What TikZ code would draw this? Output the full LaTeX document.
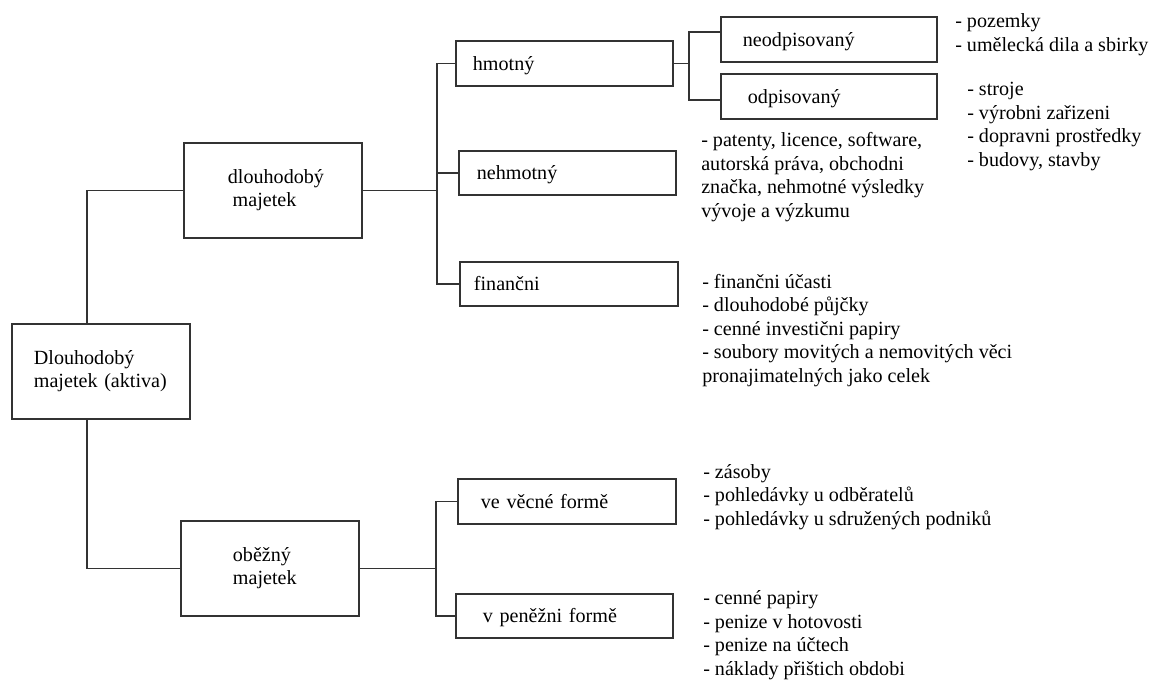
\documentclass[tikz,border=0pt]{standalone}
\usepackage{fontspec}
\setmainfont{Liberation Serif}
\hyphenpenalty=10000

\begin{document}
\begin{tikzpicture}[
    x=0.025cm, y=-0.025cm,
    font=\fontsize{14.3}{16.6}\selectfont,
    box/.style={draw=black!80, line width=1.3pt, anchor=north west, align=left,
      inner ysep=0pt},
    one/.style={text height=12.5pt, text depth=3pt},
    lst/.style={anchor=base west, align=left, inner sep=0pt},
    link/.style={draw=black!80, line width=1.3pt}
  ]
    \useasboundingbox (0,0) rectangle (1152,680);
    % boxes
    \node[box, minimum height=2.375cm, text width=3.35cm, inner xsep=0.55cm]
      (root) at (11,323) {Dlouhodobý\\majetek (aktiva)};
    \node[box, minimum height=2.375cm, text width=2.25cm, inner xsep=1.1cm]
      (dlouho) at (183,142) {dlouhodobý\\\hspace*{0.12cm}majetek};
    \node[box, minimum height=2.375cm, text width=1.85cm, inner xsep=1.3cm]
      (obezny) at (180,520) {oběžný\\majetek};
    \node[box, one, minimum height=1.125cm, text width=4.575cm, inner xsep=0.425cm]
      (hmotny) at (455,40) {hmotný};
    \node[box, one, minimum height=1.1cm, text width=4.525cm, inner xsep=0.45cm]
      (nehmotny) at (458,150) {nehmotný};
    \node[box, one, minimum height=1.1cm, text width=4.75cm, inner xsep=0.35cm]
      (financni) at (459,261) {finančni};
    \node[box, one, minimum height=1.125cm, text width=4.3cm, inner xsep=0.55cm]
      (neodp) at (720,16) {neodpisovaný};
    \node[box, one, minimum height=1.125cm, text width=4.05cm, inner xsep=0.675cm]
      (odp) at (720,73) {odpisovaný};
    \node[box, one, minimum height=1.125cm, text width=4.3cm, inner xsep=0.575cm]
      (vecne) at (457,478) {ve věcné formě};
    \node[box, one, minimum height=1.1cm, text width=4.075cm, inner xsep=0.675cm]
      (penezni) at (455,593) {v peněžni formě};
    % lists (placed at the baseline of their last line)
    \node[lst] (pozemky) at (955,51) {- pozemky\\- umělecká dila a sbirky};
    \node[lst] (stroje) at (967,166) {- stroje\\- výrobni zařizeni\\- dopravni prostředky\\- budovy, stavby};
    \node[lst] (patenty) at (701,217) {- patenty, licence, software,\\autorská práva, obchodni\\značka, nehmotné výsledky\\vývoje a výzkumu};
    \node[lst] (ucasti) at (702,382) {- finančni účasti\\- dlouhodobé půjčky\\- cenné investični papiry\\- soubory movitých a nemovitých věci\\pronajimatelných jako celek};
    \node[lst] (zasoby) at (703,525) {- zásoby\\- pohledávky u odběratelů\\- pohledávky u sdružených podniků};
    \node[lst] (papiry) at (703,675) {- cenné papiry\\- penize v hotovosti\\- penize na účtech\\- náklady přištich obdobi};
    % connectors
    \coordinate (trunk) at (87,0);
    \coordinate (fork1) at (437,0);
    \coordinate (fork2) at (689,0);
    \coordinate (fork3) at (436,0);
    \draw[link] (root.north -| trunk) |- (dlouho.west);
    \draw[link] (root.south -| trunk) |- (obezny.west);
    \draw[link] (dlouho.east) -- (dlouho.east -| fork1);
    \draw[link] (hmotny.west) -| (fork1 |- financni.west) -- (financni.west);
    \draw[link] (nehmotny.west) -- (nehmotny.west -| fork1);
    \draw[link] (hmotny.east) -- (hmotny.east -| fork2);
    \draw[link] ([yshift=0.19cm]neodp.west) -| ([yshift=-0.09cm]fork2 |- odp.west) -- ([yshift=-0.09cm]odp.west);
    \draw[link] (obezny.east) -- (obezny.east -| fork3);
    \draw[link] (vecne.west) -| (fork3 |- penezni.west) -- (penezni.west);
\end{tikzpicture}
\end{document}
